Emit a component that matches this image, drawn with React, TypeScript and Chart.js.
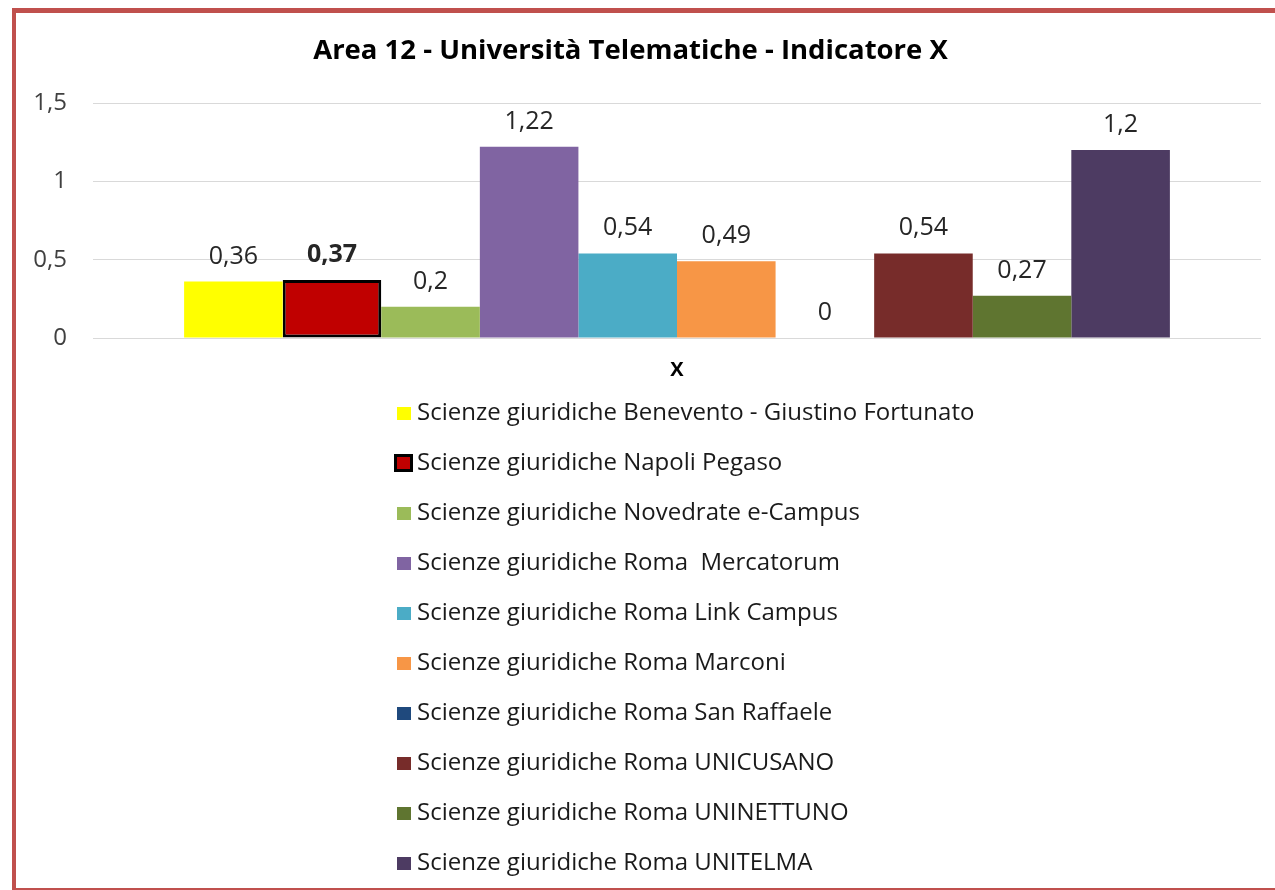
import React, { useEffect, useRef } from "react";
import { Chart, registerables } from "chart.js";

Chart.register(...registerables);

const categories: string[] = ["X"];
const seriesNames: string[] = [
  "Scienze giuridiche Benevento - Giustino Fortunato",
  "Scienze giuridiche Napoli Pegaso",
  "Scienze giuridiche Novedrate e-Campus",
  "Scienze giuridiche Roma  Mercatorum",
  "Scienze giuridiche Roma Link Campus",
  "Scienze giuridiche Roma Marconi",
  "Scienze giuridiche Roma San Raffaele",
  "Scienze giuridiche Roma UNICUSANO",
  "Scienze giuridiche Roma UNINETTUNO",
  "Scienze giuridiche Roma UNITELMA",
];
const seriesValues: number[] = [0.36, 0.37, 0.2, 1.22, 0.54, 0.49, 0, 0.54, 0.27, 1.2];
const seriesColors: string[] = [
  "#FFFF00",
  "#C00000",
  "#9BBB59",
  "#8064A2",
  "#4BACC6",
  "#F79646",
  "#1F497D",
  "#772C2A",
  "#5F7530",
  "#4D3B62",
];
const highlightIndex = 1;
const yTicks: number[] = [0, 0.5, 1, 1.5];

const FONT = "'Open Sans', 'Noto Sans', sans-serif";
const fmt = (v: number) => String(v).replace(".", ",");

const dataLabelPlugin = {
  id: "dataLabels",
  afterDatasetsDraw(chart: any) {
    const ctx = chart.ctx;
    ctx.save();
    ctx.textAlign = "center";
    ctx.textBaseline = "alphabetic";
    chart.data.datasets.forEach((ds: any, i: number) => {
      const meta = chart.getDatasetMeta(i);
      meta.data.forEach((el: any, j: number) => {
        const v = ds.data[j];
        ctx.font = (i === highlightIndex ? "bold " : "") + "25px " + FONT;
        ctx.fillStyle = "#262626";
        ctx.fillText(fmt(v), el.x, el.y - 18);
      });
    });
    ctx.restore();
  },
};

const legendPlugin = {
  id: "customLegend",
  afterDraw(chart: any) {
    const ctx = chart.ctx;
    ctx.save();
    const x0 = 397;
    const y0 = 413;
    const step = 50;
    chart.data.datasets.forEach((ds: any, i: number) => {
      const cy = y0 + i * step;
      if (i === highlightIndex) {
        ctx.fillStyle = "#000";
        ctx.fillRect(x0 - 3, cy - 9, 19, 18);
        ctx.fillStyle = ds.backgroundColor;
        ctx.fillRect(x0, cy - 6, 13, 12);
      } else {
        ctx.fillStyle = ds.backgroundColor;
        ctx.fillRect(x0, cy - 6, 14, 13);
      }
      ctx.fillStyle = "#1a1a1a";
      ctx.font = "24px " + FONT;
      ctx.textAlign = "left";
      ctx.textBaseline = "middle";
      ctx.fillText(ds.label, x0 + 20, cy);
    });
    ctx.restore();
  },
};

export default function App() {
  const ref = useRef<HTMLCanvasElement | null>(null);

  useEffect(() => {
    if (!ref.current) return;
    const datasets = seriesNames.map((name, i) => ({
      label: name,
      data: categories.map(() => seriesValues[i]),
      backgroundColor: seriesColors[i],
      borderColor: i === highlightIndex ? "#000000" : seriesColors[i],
      borderWidth: i === highlightIndex ? 3 : 0,
      borderSkipped: false as const,
    }));
    const chart = new Chart(ref.current, {
      type: "bar",
      data: { labels: categories, datasets },
      options: {
        responsive: false,
        animation: false,
        layout: { padding: { left: 0, right: 14, top: 0, bottom: 488 } },
        datasets: { bar: { categoryPercentage: 0.844, barPercentage: 1 } },
        plugins: {
          legend: { display: false },
          tooltip: { enabled: false },
          title: {
            display: true,
            text: "Area 12 - Università Telematiche - Indicatore X",
            color: "#000",
            font: { family: FONT, size: 27.5, weight: "bold", lineHeight: 1.2 },
            padding: { top: 35, bottom: 35 },
          },
        },
        scales: {
          x: {
            grid: { display: false, drawTicks: false },
            border: { display: false },
            ticks: {
              color: "#000",
              padding: 20,
              font: { family: FONT, size: 20, weight: "bold", lineHeight: 1.2 },
            },
          },
          y: {
            min: 0,
            max: 1.5,
            afterFit(scale: any) {
              scale.width = 93;
            },
            afterBuildTicks(scale: any) {
              scale.ticks = yTicks.map((v) => ({ value: v }));
            },
            grid: { color: "#D9D9D9", drawTicks: false, lineWidth: 1 },
            border: { display: false },
            ticks: {
              color: "#404040",
              padding: 26,
              font: { family: FONT, size: 24, lineHeight: 1.2 },
              callback: (v: any) => fmt(Number(v)),
            },
          },
        },
      },
      plugins: [dataLabelPlugin, legendPlugin],
    });
    return () => chart.destroy();
  }, []);

  return (
    <div
      style={{
        position: "fixed",
        left: 0,
        top: 0,
        width: 1275,
        height: 890,
        overflow: "hidden",
        background: "#fff",
      }}
    >
      <div
        style={{
          position: "absolute",
          left: 12,
          top: 8,
          width: 1300,
          height: 875,
          borderTop: "5px solid #C0504D",
          borderLeft: "4px solid #C0504D",
          borderBottom: "4px solid #C0504D",
        }}
      />
      <canvas
        ref={ref}
        width={1275}
        height={890}
        style={{ position: "absolute", left: 0, top: 0, width: 1275, height: 890 }}
      />
    </div>
  );
}
